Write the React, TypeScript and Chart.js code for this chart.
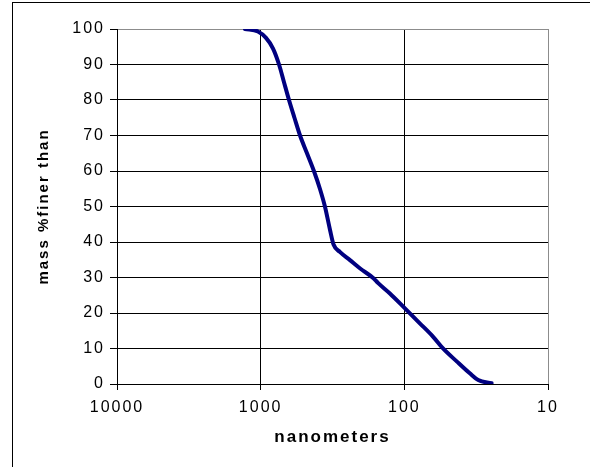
import React, { useEffect, useRef } from 'react';
import { Chart, registerables } from 'chart.js';

Chart.register(...registerables);

// Particle size (nm) and cumulative mass % finer than
const nanometers = [1285, 1045, 918, 820, 745, 688, 635, 582, 532, 476, 426, 387, 357, 329, 311, 281, 239, 204, 164, 152, 126, 99, 78, 63, 54, 43, 35, 30.6, 24.7];
const massPercentFiner = [100, 99.3, 97.5, 94.5, 90, 85, 80, 75, 70, 65, 60, 55, 50, 43.4, 39.3, 37.2, 34.9, 32.6, 29.8, 28.4, 25.5, 21.3, 17.1, 13.3, 10.1, 6.3, 3.0, 1.1, 0.2];
const xTickValues = [10000, 1000, 100, 10];
const yTickStep = 10;
const xTitle = 'nanometers';
const yTitle = 'mass %finer than';

const FONT = 'Arial, "Liberation Sans", sans-serif';
const SPACING = '2px';

const spacingPlugin = {
  id: 'letterSpacing',
  beforeInit(chart: any) { chart.ctx.letterSpacing = SPACING; },
  beforeUpdate(chart: any) { chart.ctx.letterSpacing = SPACING; },
  beforeDraw(chart: any) { chart.ctx.letterSpacing = SPACING; },
};

export default function App() {
  const ref = useRef<HTMLCanvasElement>(null);

  useEffect(() => {
    const canvas = ref.current!;
    const chart = new Chart(canvas, {
      type: 'line',
      data: {
        datasets: [
          {
            data: nanometers.map((x, i) => ({ x, y: massPercentFiner[i] })),
            borderColor: '#000080',
            borderWidth: 4,
            pointRadius: 0,
            cubicInterpolationMode: 'monotone',
            fill: false,
            borderCapStyle: 'round',
            borderJoinStyle: 'round',
          } as any,
        ],
      },
      options: {
        responsive: false,
        animation: false,
        events: [],
        layout: { padding: { left: 0, top: 29, right: 42, bottom: 0 } },
        plugins: { legend: { display: false }, tooltip: { enabled: false }, title: { display: false } },
        scales: {
          x: {
            type: 'logarithmic',
            reverse: true,
            min: 10,
            max: 10000,
            afterBuildTicks: (s: any) => {
              s.ticks = xTickValues.map((v) => ({ value: v }));
            },
            afterFit: (s: any) => {
              s.height = 83;
            },
            ticks: {
              callback: (v: any) => String(v),
              font: { family: FONT, size: 16 },
              color: '#000',
              padding: 8,
              maxRotation: 0,
              autoSkip: false,
            },
            grid: {
              color: (c: any) => (c.tick && c.tick.value === 10 ? '#8c8c8c' : '#000'),
              tickColor: '#000',
              tickLength: 6,
              lineWidth: 1,
            },
            border: { color: '#000', width: 1 },
            title: {
              display: true,
              text: xTitle,
              color: '#000',
              font: { family: FONT, size: 17, weight: 'bold' },
              padding: { top: 0, bottom: 19 },
            },
          },
          y: {
            type: 'linear',
            min: 0,
            max: 100,
            afterFit: (s: any) => {
              s.width = 117;
            },
            ticks: {
              stepSize: yTickStep,
              font: { family: FONT, size: 16 },
              color: '#000',
              padding: 5,
            },
            grid: {
              color: (c: any) => (c.tick && c.tick.value === 100 ? '#8c8c8c' : '#000'),
              tickColor: '#000',
              tickLength: 7,
              lineWidth: 1,
            },
            border: { color: '#000', width: 1 },
            title: {
              display: true,
              text: yTitle,
              color: '#000',
              font: { family: FONT, size: 15, weight: 'bold' },
              padding: { top: 35, bottom: 0 },
            },
          },
        },
      },
      plugins: [spacingPlugin],
    });
    return () => chart.destroy();
  }, []);

  return (
    <div style={{ position: 'fixed', left: 0, top: 0, width: 590, height: 467, overflow: 'hidden', background: '#fff' }}>
      <canvas ref={ref} width={590} height={467} style={{ position: 'absolute', left: 0, top: 0, width: 590, height: 467 }} />
      <div
        style={{
          position: 'absolute',
          left: 12,
          top: 2,
          width: 700,
          height: 600,
          borderLeft: '1px solid #000',
          borderTop: '1px solid #000',
          pointerEvents: 'none',
        }}
      />
    </div>
  );
}
